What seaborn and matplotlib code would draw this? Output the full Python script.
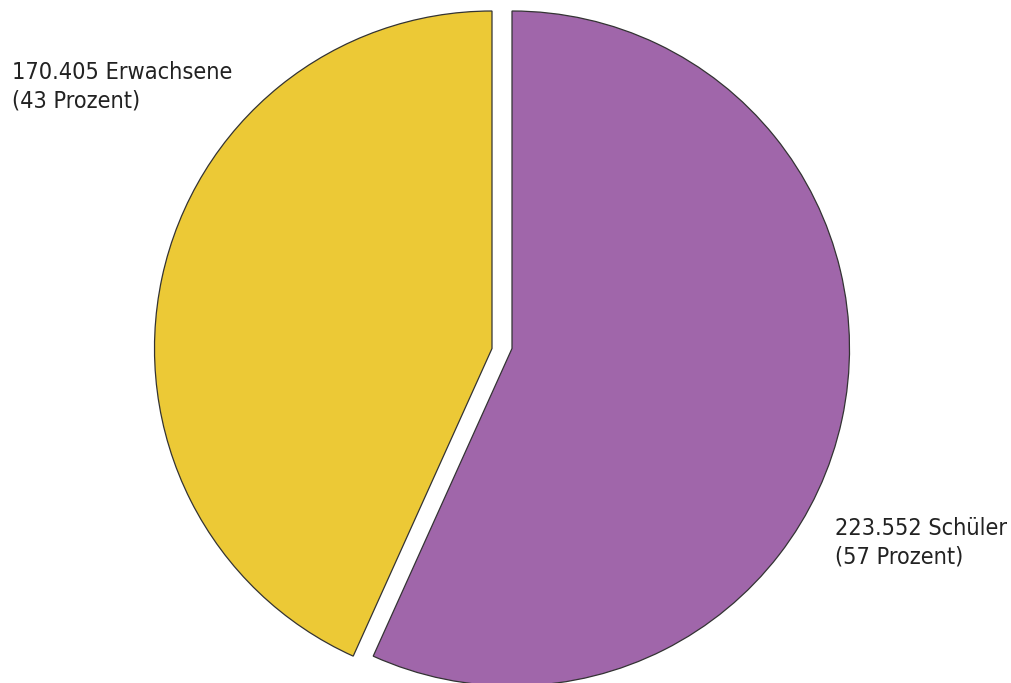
import matplotlib
matplotlib.use("Agg")
import matplotlib.pyplot as plt
import seaborn as sns

# Teilnehmende nach Gruppe
groups = ["Schüler", "Erwachsene"]
counts = [223552, 170405]
percents = [57, 43]
count_labels = ["223.552", "170.405"]

colors = ["#A066AA", "#ECC936"]

sns.set_theme(style="white")
plt.rcParams["font.family"] = ["DejaVu Sans"]

W, H = 1012, 683
fig = plt.figure(figsize=(W / 100, H / 100), dpi=100)
ax = fig.add_axes([0, 0, 1, 1])

radius = 337.5
cx, cy = 502, H - 348.5
wedges, _ = ax.pie(
    counts,
    colors=colors,
    startangle=90,
    counterclock=False,
    radius=radius,
    center=(cx, cy),
    wedgeprops=dict(edgecolor="#333333", linewidth=0.9),
    frame=False,
)
# pull the two slices apart sideways
gap = 10
wedges[0].set_center((cx + gap, cy))
wedges[1].set_center((cx - gap, cy))

ax.set_xlim(0, W)
ax.set_ylim(0, H)
ax.set_aspect("equal")
ax.axis("off")

text_kw = dict(fontsize=16.8, color="#222222", va="top", ha="left",
               linespacing=1.32, fontstretch="condensed")
ax.text(12, H - 61, f"{count_labels[1]} {groups[1]}\n({percents[1]} Prozent)", **text_kw)
ax.text(835, H - 517, f"{count_labels[0]} {groups[0]}\n({percents[0]} Prozent)", **text_kw)

fig.savefig("out.png", dpi=100, facecolor="white")
